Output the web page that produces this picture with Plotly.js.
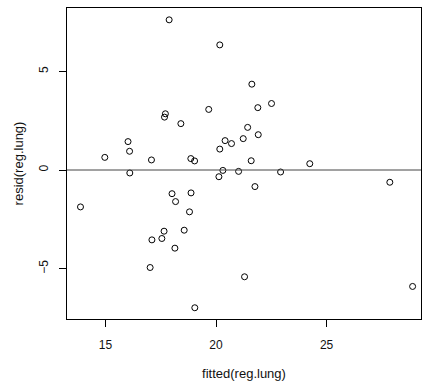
<!DOCTYPE html>
<html>
<head>
<meta charset="utf-8">
<script src="https://cdn.plot.ly/plotly-3.0.1.min.js"></script>
<style>html,body{margin:0;padding:0;background:#fff;}</style>
</head>
<body>
<div id="chart" style="width:422px;height:381px;"></div>
<script>
const fitted = [17.88, 20.17, 17.71, 17.67, 19.67, 18.41, 16.02, 16.09, 14.97, 17.08,
  18.86, 19.03, 20.41, 20.70, 20.17, 21.62, 21.89, 22.51, 21.43, 21.23,
  21.91, 21.59, 24.24, 16.10, 20.31, 20.13, 21.02, 13.87, 18.01, 18.87,
  18.17, 18.80, 17.65, 18.56, 17.55, 17.10, 18.14, 17.02, 19.04, 22.92,
  21.76, 27.86, 21.29, 28.89];
const resid = [7.61, 6.34, 2.85, 2.68, 3.07, 2.35, 1.44, 0.95, 0.64, 0.51,
  0.58, 0.46, 1.49, 1.34, 1.06, 4.35, 3.16, 3.37, 2.16, 1.59,
  1.79, 0.47, 0.32, -0.15, -0.02, -0.34, -0.07, -1.87, -1.20, -1.16,
  -1.60, -2.12, -3.10, -3.05, -3.47, -3.54, -3.96, -4.94, -6.98, -0.10,
  -0.84, -0.62, -5.41, -5.90];
const xTicks = [15, 20, 25];
const yTicks = [-5, 0, 5];
const refLine = 0;

const font = {family: 'Liberation Sans, Arial, sans-serif', size: 12, color: '#111'};

Plotly.newPlot('chart', [{
  x: fitted, y: resid, type: 'scatter', mode: 'markers',
  marker: {symbol: 'circle-open', size: 6, color: '#000', line: {width: 1, color: '#000'}},
  hoverinfo: 'skip', showlegend: false
}], {
  width: 422, height: 381,
  margin: {l: 67, r: 1, t: 8, b: 62},
  paper_bgcolor: '#fff', plot_bgcolor: '#fff',
  font: font,
  xaxis: {
    range: [13.26, 29.27], tickvals: xTicks, ticktext: xTicks.map(String),
    showgrid: false, zeroline: false, showline: true, mirror: true,
    linecolor: '#000', linewidth: 1, ticks: 'outside', ticklen: 7, tickcolor: '#000',
    ticklabelstandoff: 8,
    title: {text: 'fitted(reg.lung)', font: {family: font.family, size: 13, color: '#111'}, standoff: 22}
  },
  yaxis: {
    range: [-7.55, 8.21], tickvals: yTicks, ticktext: yTicks.map(v => v < 0 ? '\u2212' + Math.abs(v) : String(v)),
    tickangle: -90,
    showgrid: false, zeroline: false, showline: true, mirror: true,
    linecolor: '#000', linewidth: 1, ticks: 'outside', ticklen: 7, tickcolor: '#000',
    ticklabelstandoff: 6,
    title: {text: 'resid(reg.lung)', font: {family: font.family, size: 13, color: '#111'}, standoff: 10}
  },
  shapes: [{type: 'line', xref: 'paper', x0: 0, x1: 1, yref: 'y', y0: refLine, y1: refLine,
    line: {color: '#444', width: 1}}]
}, {staticPlot: true, displayModeBar: false});
</script>
</body>
</html>
